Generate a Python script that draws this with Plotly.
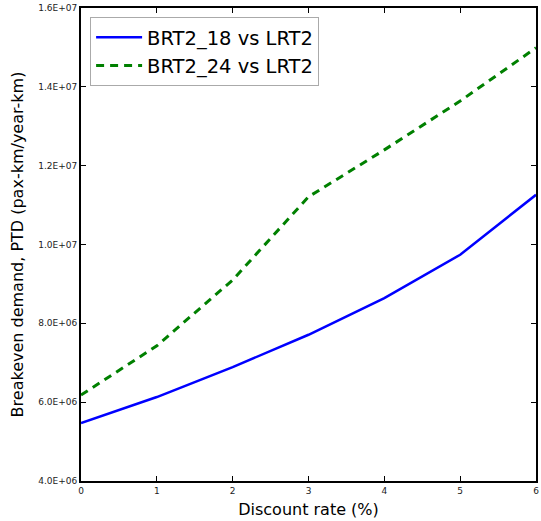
import plotly.graph_objects as go

# Discount rate (%) and breakeven demand (pax-km/year-km)
discount_rate = [0, 1, 2, 3, 4, 5, 6]
brt18_vs_lrt2 = [5.47e6, 6.13e6, 6.89e6, 7.71e6, 8.64e6, 9.74e6, 11.26e6]
brt24_vs_lrt2 = [6.18e6, 7.43e6, 9.10e6, 11.21e6, 12.40e6, 13.64e6, 14.99e6]

y_ticks = [4e6, 6e6, 8e6, 1.0e7, 1.2e7, 1.4e7, 1.6e7]
y_tick_labels = ["4.0E+06", "6.0E+06", "8.0E+06", "1.0E+07", "1.2E+07", "1.4E+07", "1.6E+07"]
x_ticks = [0, 1, 2, 3, 4, 5, 6]

fig = go.Figure()
fig.add_trace(go.Scatter(
    x=discount_rate, y=brt18_vs_lrt2, mode="lines", name="BRT2_18 vs LRT2",
    line=dict(color="#0000ff", width=2.5),
))
fig.add_trace(go.Scatter(
    x=discount_rate, y=brt24_vs_lrt2, mode="lines", name="BRT2_24 vs LRT2",
    line=dict(color="#008000", width=3, dash="8px,6px"),
))

axis_common = dict(
    showline=True, linecolor="black", linewidth=2, mirror="ticks",
    ticks="inside", ticklen=5, tickwidth=1, tickcolor="black",
    showgrid=False, zeroline=False,
    tickfont=dict(family="DejaVu Sans", size=9, color="#222"),
    title_font=dict(family="DejaVu Sans", size=16, color="black"),
)

fig.update_xaxes(
    range=[0, 6], tickvals=x_ticks, title_text="Discount rate (%)",
    title_standoff=9, **axis_common,
)
fig.update_yaxes(
    range=[4e6, 1.6e7], tickvals=y_ticks, ticktext=y_tick_labels,
    title_text="Breakeven demand, PTD (pax-km/year-km)",
    title_standoff=11, **axis_common,
)

fig.update_layout(
    width=541, height=521,
    margin=dict(l=81, r=3, t=8, b=40),
    paper_bgcolor="white", plot_bgcolor="white",
    font=dict(family="DejaVu Sans", color="black"),
    legend=dict(
        x=0.02, y=0.981, xanchor="left", yanchor="top",
        bgcolor="white", bordercolor="#aaaaaa", borderwidth=1,
        font=dict(family="DejaVu Sans", size=19.5, color="black"),
        itemwidth=46, tracegroupgap=0,
    ),
)

fig.write_html("out.html")
